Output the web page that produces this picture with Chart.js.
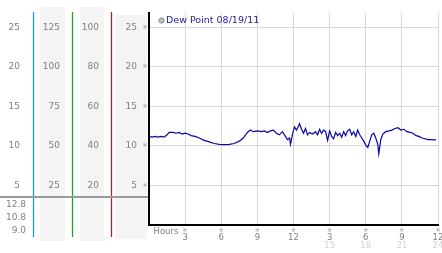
<!DOCTYPE html>
<html>
<head>
<meta charset="utf-8">
<script src="https://cdn.jsdelivr.net/npm/chart.js@4.4.1/dist/chart.umd.min.js"></script>
<style>
html,body{margin:0;padding:0;background:#fff;}
#c{display:block;}
</style>
</head>
<body>
<canvas id="c" width="442" height="253"></canvas>
<script>
const seriesLabel = 'Dew Point 08/19/11';
const hours = [0,0.25,0.5,0.75,1,1.25,1.5,1.67,2,2.25,2.5,2.75,3,3.25,3.5,3.83,4.17,4.58,5,5.42,5.83,6.25,6.67,7.08,7.5,7.83,8.17,8.42,8.67,9,9.33,9.58,9.83,10.08,10.33,10.58,10.83,11.08,11.33,11.5,11.67,11.75,11.92,12.08,12.25,12.42,12.5,12.67,12.83,13,13.17,13.33,13.58,13.83,14,14.17,14.33,14.5,14.67,14.83,15,15.17,15.33,15.5,15.67,15.83,16,16.17,16.33,16.5,16.67,16.83,17,17.17,17.33,17.5,17.67,17.83,18,18.17,18.33,18.5,18.67,18.83,19,19.08,19.25,19.42,19.67,19.92,20.17,20.42,20.67,20.92,21.17,21.42,21.67,21.92,22.17,22.42,22.67,22.92,23.17,23.42,23.67,23.83];
const dewPoint = [11.2,11.1,11.2,11.1,11.2,11.1,11.4,11.7,11.7,11.6,11.7,11.5,11.6,11.5,11.3,11.2,11.0,10.7,10.5,10.3,10.2,10.15,10.2,10.3,10.6,11.0,11.7,12.0,11.8,11.9,11.8,11.9,11.7,11.9,12.0,11.6,11.4,11.8,11.2,10.8,11.0,10.2,11.5,12.4,12.0,12.5,12.8,12.1,11.6,12.2,11.4,11.7,11.5,11.8,11.4,12.1,11.6,12.0,11.8,10.7,11.9,11.2,10.9,11.7,11.3,11.6,11.1,11.8,11.3,11.9,12.1,11.4,11.8,11.2,12.0,11.4,11.0,10.6,10.1,9.8,10.6,11.4,11.6,11.0,10.2,9.0,10.8,11.5,11.8,11.9,12.0,12.2,12.3,12.0,12.1,11.8,11.7,11.6,11.3,11.2,11.0,10.9,10.8,10.8,10.75,10.8];
const yTicks = [5,10,15,20,25];
const col1Ticks = [5,10,15,20,25];
const col2Ticks = [25,50,75,100,125];
const col3Ticks = [20,40,60,80,100];
const xTicks = [3,6,9,12,15,18,21,24];
const statLabels = ['12.8','10.8','9.0'];

const LABEL_GREY = '#808080';

const panelPlugin = {
  id: 'panel',
  beforeDraw(chart) {
    const ctx = chart.ctx;
    const y = chart.scales.y;
    ctx.save();
    ctx.fillStyle = '#fff';
    ctx.fillRect(0, 0, chart.width, chart.height);
    ctx.fillStyle = '#f4f4f4';
    ctx.fillRect(40, 7, 25, 234);
    ctx.fillRect(80, 7, 24, 234);
    ctx.fillRect(115, 15, 32, 224);
    const seps = [[33.5, '#1f9cc8'], [72.5, '#22a022'], [111.5, '#aa2424']];
    ctx.lineWidth = 1.3;
    seps.forEach(([x, c]) => {
      ctx.strokeStyle = c;
      ctx.beginPath(); ctx.moveTo(x, 12); ctx.lineTo(x, 237); ctx.stroke();
    });
    ctx.font = '9px "DejaVu Sans"';
    ctx.fillStyle = LABEL_GREY;
    ctx.textAlign = 'right';
    ctx.textBaseline = 'middle';
    col1Ticks.forEach((v, i) => ctx.fillText(String(v), 20, y.getPixelForValue(yTicks[i])));
    col2Ticks.forEach((v, i) => ctx.fillText(String(v), 60, y.getPixelForValue(yTicks[i])));
    col3Ticks.forEach((v, i) => ctx.fillText(String(v), 99, y.getPixelForValue(yTicks[i])));
    ctx.strokeStyle = '#9a9a9a';
    ctx.lineWidth = 2;
    ctx.beginPath(); ctx.moveTo(0, 197); ctx.lineTo(149, 197); ctx.stroke();
    statLabels.forEach((s, i) => ctx.fillText(s, 26, 205 + i * 13));
    ctx.restore();
  },
  afterDraw(chart) {
    const ctx = chart.ctx;
    const x = chart.scales.x, y = chart.scales.y;
    ctx.save();
    ctx.font = '6px "DejaVu Sans"';
    ctx.fillStyle = '#9a9a9a';
    ctx.textAlign = 'center';
    ctx.textBaseline = 'middle';
    yTicks.forEach(v => ctx.fillText('※', 145, y.getPixelForValue(v)));
    xTicks.forEach(v => ctx.fillText('※', x.getPixelForValue(v), 230));
    ctx.font = '8.5px "DejaVu Sans"';
    ctx.fillStyle = '#d4d4d4';
    xTicks.filter(v => v > 12).forEach(v => ctx.fillText(String(v), x.getPixelForValue(v), 245.5));
    ctx.fillStyle = LABEL_GREY;
    ctx.textAlign = 'left';
    ctx.fillText('Hours', 153.5, 232);
    ctx.beginPath();
    ctx.arc(161.5, 20.5, 2.6, 0, Math.PI * 2);
    ctx.fillStyle = '#bdbdbd';
    ctx.fill();
    ctx.strokeStyle = '#8a8a8a';
    ctx.lineWidth = 1;
    ctx.stroke();
    ctx.font = '9.5px "DejaVu Sans"';
    ctx.fillStyle = '#2323a3';
    ctx.textBaseline = 'middle';
    ctx.fillText(chart.data.datasets[0].label, 166, 21);
    ctx.restore();
  }
};

new Chart(document.getElementById('c'), {
  type: 'line',
  data: {
    datasets: [{
      label: seriesLabel,
      data: hours.map((h, i) => ({ x: h, y: dewPoint[i] })),
      borderColor: '#0808a4',
      borderWidth: 1.2,
      pointRadius: 0,
      tension: 0,
      fill: false
    }]
  },
  options: {
    responsive: false,
    animation: false,
    devicePixelRatio: 1,
    layout: { padding: { left: 0, top: 13, right: 4, bottom: 0 } },
    plugins: { legend: { display: false }, tooltip: { enabled: false }, title: { display: false } },
    scales: {
      x: {
        type: 'linear',
        min: 0, max: 24,
        afterBuildTicks: s => { s.ticks = xTicks.map(v => ({ value: v })); },
        afterFit: s => { s.height = 28; s.paddingLeft = 0; s.paddingRight = 0; },
        grid: { color: '#d8d8d8', lineWidth: 1, drawTicks: false },
        border: { color: '#000', width: 2 },
        ticks: {
          padding: 8,
          color: LABEL_GREY,
          font: { family: 'DejaVu Sans', size: 8.5 },
          maxRotation: 0,
          autoSkip: false,
          callback: v => String(v % 12 === 0 ? 12 : v % 12)
        }
      },
      y: {
        min: 0, max: 26.8,
        afterBuildTicks: s => { s.ticks = yTicks.map(v => ({ value: v })); },
        afterFit: s => { s.width = 149; s.paddingTop = 0; s.paddingBottom = 0; },
        grid: { color: '#d8d8d8', lineWidth: 1, drawTicks: false },
        border: { color: '#000', width: 2 },
        ticks: {
          padding: 12,
          color: LABEL_GREY,
          font: { family: 'DejaVu Sans', size: 9 }
        }
      }
    }
  },
  plugins: [panelPlugin]
});
</script>
</body>
</html>
